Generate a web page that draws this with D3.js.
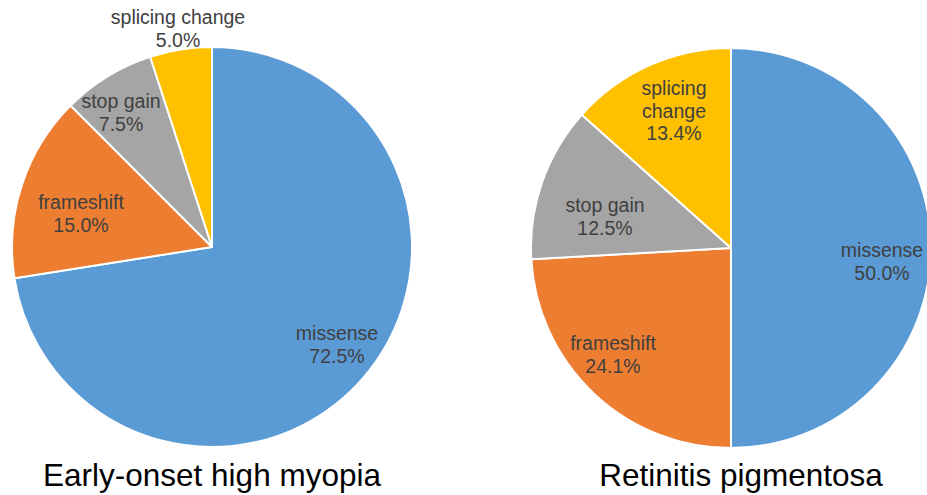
<!DOCTYPE html>
<html>
<head>
<meta charset="utf-8">
<script src="https://cdn.jsdelivr.net/npm/d3@7/dist/d3.min.js"></script>
<style>
  html, body { margin: 0; padding: 0; background: #fff; }
  svg { display: block; }
</style>
</head>
<body>
<svg id="chart" width="927" height="495"></svg>
<script>
// ---- data ----
const categories = ["missense", "frameshift", "stop gain", "splicing change"];
const myopiaValues = [72.5, 15.0, 7.5, 5.0];
const rpValues = [50.0, 24.1, 12.5, 13.4];
const chartTitles = ["Early-onset high myopia", "Retinitis pigmentosa"];

// ---- layout / style (not data) ----
const colors = d3.scaleOrdinal().domain(categories)
  .range(["#5B9BD5", "#ED7D31", "#A5A5A5", "#FFC000"]);
const radius = 200;
const pies = [
  { values: myopiaValues, cx: 212, cy: 247, titleX: 212,
    // label anchor offsets (first baseline) relative to pie centre
    labelOffsets: [[125, 93], [-131, -38], [-91, -139], [-34, -223]],
    labelLines: [["missense"], ["frameshift"], ["stop gain"], ["splicing change"]] },
  { values: rpValues, cx: 731, cy: 248, titleX: 741,
    labelOffsets: [[151, 9], [-118, 102], [-126, -36], [-57, -153]],
    labelLines: [["missense"], ["frameshift"], ["stop gain"], ["splicing", "change"]] }
];

const svg = d3.select("#chart");
const pieGen = d3.pie().sort(null).value(d => d);
const arcGen = d3.arc().innerRadius(0).outerRadius(radius);
const fmt = d3.format(".1f");

pies.forEach((p, pi) => {
  const g = svg.append("g").attr("transform", `translate(${p.cx},${p.cy})`);
  const arcs = pieGen(p.values);
  g.selectAll("path").data(arcs).enter().append("path")
    .attr("d", arcGen)
    .attr("fill", (d, i) => colors(categories[i]))
    .attr("stroke", "#fff")
    .attr("stroke-width", 2)
    .attr("stroke-linejoin", "round");

  const total = d3.sum(p.values);
  arcs.forEach((a, i) => {
    const [ox, oy] = p.labelOffsets[i];
    const lines = p.labelLines[i].concat([fmt(a.data / total * 100) + "%"]);
    const t = g.append("text")
      .attr("text-anchor", "middle")
      .attr("font-family", "Liberation Sans, Arial, sans-serif")
      .attr("font-size", 19.5)
      .attr("fill", "#404040");
    lines.forEach((ln, li) => {
      t.append("tspan").attr("x", ox).attr("y", oy + li * 22.5).text(ln);
    });
  });

  svg.append("text")
    .attr("x", p.titleX)
    .attr("y", 486)
    .attr("text-anchor", "middle")
    .attr("font-family", "Liberation Sans, Arial, sans-serif")
    .attr("font-size", 31.5)
    .attr("fill", "#000")
    .text(chartTitles[pi]);
});
</script>
</body>
</html>
